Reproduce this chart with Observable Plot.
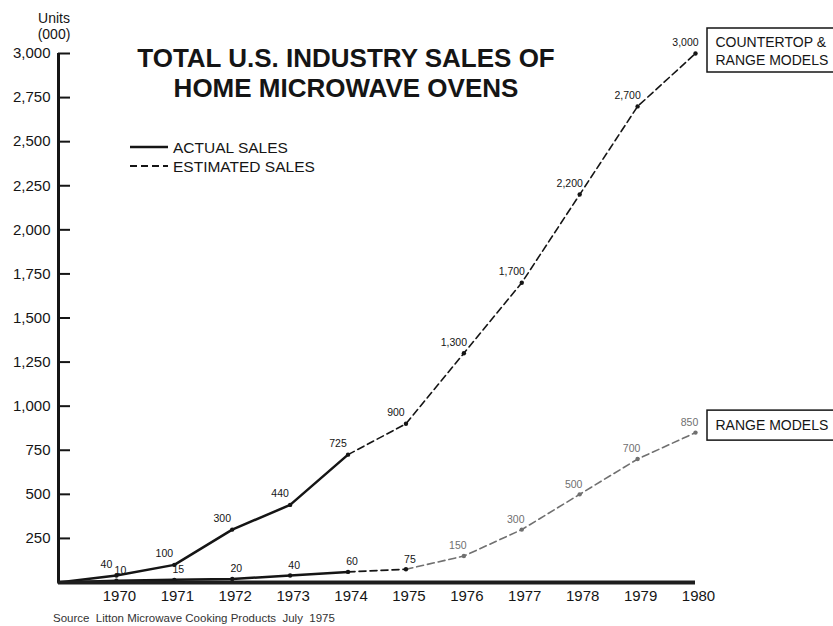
<!DOCTYPE html>
<html><head><meta charset="utf-8">
<script src="https://cdn.jsdelivr.net/npm/d3@7"></script>
<script src="https://cdn.jsdelivr.net/npm/@observablehq/plot@0.6"></script>
<style>html,body{margin:0;padding:0;background:#fff;} svg{display:block;}</style>
</head><body><div id="chart"></div>
<script>
// ---- data ----
const years = [1969, 1970, 1971, 1972, 1973, 1974, 1975, 1976, 1977, 1978, 1979, 1980];
const countertopAndRange = [0, 40, 100, 300, 440, 725, 900, 1300, 1700, 2200, 2700, 3000];
const rangeModels = [0, 10, 15, 20, 40, 60, 75, 150, 300, 500, 700, 850];
const lastActualYear = 1974;
const xTicks = [1970, 1971, 1972, 1973, 1974, 1975, 1976, 1977, 1978, 1979, 1980];
const yTicks = [250, 500, 750, 1000, 1250, 1500, 1750, 2000, 2250, 2500, 2750, 3000];
const seriesNames = ["COUNTERTOP &\nRANGE MODELS", "RANGE MODELS"];
const titleLines = ["TOTAL U.S. INDUSTRY SALES OF", "HOME MICROWAVE OVENS"];
const legendLabels = ["ACTUAL SALES", "ESTIMATED SALES"];
const unitLines = ["Units", "(000)"];
const sourceText = "Source  Litton Microwave Cooking Products  July  1975";

// ---- table ----
const rows = [];
years.forEach((yr, i) => {
  rows.push({series: "total", year: yr, value: countertopAndRange[i]});
  rows.push({series: "range", year: yr, value: rangeModels[i]});
});
const actual = rows.filter(d => d.year <= lastActualYear);
const labeled = rows.filter(d => d.year > years[0]);
const lastYear = years[years.length - 1];
const ends = rows.filter(d => d.year === lastYear);
const fmt = d3.format(",");
const FONT = "'Liberation Sans', Arial, Helvetica, sans-serif";
const INK = "#151515", GREY = "#707070";

const W = 833, H = 626, mL = 58, mR = 138, mT = 53, mB = 44;

const plot = Plot.plot({
  width: W, height: H,
  marginLeft: mL, marginRight: mR, marginTop: mT, marginBottom: mB,
  style: {fontFamily: FONT, background: "#fff", color: INK, overflow: "visible"},
  x: {domain: [years[0], lastYear]},
  y: {domain: [0, 3000]},
  marks: [
    Plot.ruleY(yTicks, {insetRight: W - mL - mR - 12, stroke: INK, strokeWidth: 2}),
    Plot.axisY({ticks: yTicks, tickSize: 0, tickPadding: 8, tickFormat: fmt, fontSize: 15, label: null}),
    Plot.axisX({ticks: xTicks, tickSize: 0, tickPadding: 8, tickFormat: d => String(d), fontSize: 15, label: null, dx: 3}),
    Plot.lineY(rows.filter(d => d.series === "range" && d.year >= lastActualYear + 1), {x: "year", y: "value", stroke: GREY, strokeWidth: 1.6, strokeDasharray: "7,4"}),
    Plot.lineY(rows.filter(d => d.series === "range" && d.year >= lastActualYear && d.year <= lastActualYear + 1), {x: "year", y: "value", stroke: INK, strokeWidth: 1.6, strokeDasharray: "7,4"}),
    Plot.lineY(rows.filter(d => d.series === "total" && d.year >= lastActualYear), {x: "year", y: "value", stroke: INK, strokeWidth: 1.6, strokeDasharray: "7,4"}),
    Plot.lineY(actual, {x: "year", y: "value", z: "series", stroke: INK, strokeWidth: 2.5}),
    Plot.dot(labeled.filter(d => !(d.series === "range" && d.year > lastActualYear + 1)), {x: "year", y: "value", r: 2.2, fill: INK}),
    Plot.dot(labeled.filter(d => d.series === "range" && d.year > lastActualYear + 1), {x: "year", y: "value", r: 2.2, fill: GREY}),
    Plot.ruleX([years[0]], {stroke: INK, strokeWidth: 3}),
    Plot.ruleY([0], {stroke: "#1e1e1e", strokeWidth: 4}),
    Plot.text(labeled.filter(d => d.series === "total"), {x: "year", y: "value", text: d => fmt(d.value), dx: -10, dy: -11, fontSize: 10.5, fill: INK}),
    Plot.text(labeled.filter(d => d.series === "range" && d.year <= lastActualYear + 1), {x: "year", y: "value", text: d => fmt(d.value), dx: 4, dy: -10, fontSize: 10.5, fill: INK}),
    Plot.text(labeled.filter(d => d.series === "range" && d.year > lastActualYear + 1), {x: "year", y: "value", text: d => fmt(d.value), dx: -6, dy: -10, fontSize: 10.5, fill: GREY}),
    Plot.text(ends.filter(d => d.series === "total"), {x: "year", y: "value", text: () => seriesNames[0], dx: 20, dy: -3, textAnchor: "start", fontSize: 14, lineHeight: 1.29, fill: INK}),
    Plot.text(ends.filter(d => d.series === "range"), {x: "year", y: "value", text: () => seriesNames[1], dx: 20, dy: -7, textAnchor: "start", fontSize: 14, fill: INK})
  ]
});

document.getElementById("chart").appendChild(plot);

// ---- annotations ----
const sx = plot.scale("x"), sy = plot.scale("y");
const svg = d3.select(plot);
const boxes = svg.insert("g", ":first-child");
const xEnd = sx.apply(lastYear);
[[countertopAndRange[countertopAndRange.length - 1], -3, 22], [rangeModels[rangeModels.length - 1], -7, 15]].forEach(([v, off, half]) => {
  const cy = sy.apply(v) + off;
  boxes.append("rect").attr("x", xEnd + 12).attr("y", cy - half).attr("width", 140).attr("height", 2 * half)
    .attr("fill", "#fff").attr("stroke", INK).attr("stroke-width", 1.5);
});

const ann = svg.append("g").attr("font-family", FONT).attr("fill", INK);
ann.selectAll("text.title").data(titleLines).join("text")
  .attr("x", 346).attr("y", (d, i) => 67 + i * 30)
  .attr("text-anchor", "middle").attr("font-size", 26).attr("font-weight", "bold").text(d => d);
ann.selectAll("text.units").data(unitLines).join("text")
  .attr("x", 54).attr("y", (d, i) => 23 + i * 16)
  .attr("text-anchor", "middle").attr("font-size", 14).text(d => d);

const leg = ann.append("g");
legendLabels.forEach((lab, i) => {
  const ly = 147 + i * 19;
  leg.append("line").attr("x1", 130).attr("x2", 168).attr("y1", ly).attr("y2", ly)
    .attr("stroke", INK).attr("stroke-width", i ? 1.8 : 2.5).attr("stroke-dasharray", i ? "7,4" : null);
  leg.append("text").attr("x", 173).attr("y", ly + 5.5).attr("text-anchor", "start").attr("font-size", 15.5).text(lab);
});

ann.append("text").attr("x", 53).attr("y", 622).attr("text-anchor", "start").attr("font-size", 11.5).attr("fill", "#333").text(sourceText);
</script>
</body></html>
